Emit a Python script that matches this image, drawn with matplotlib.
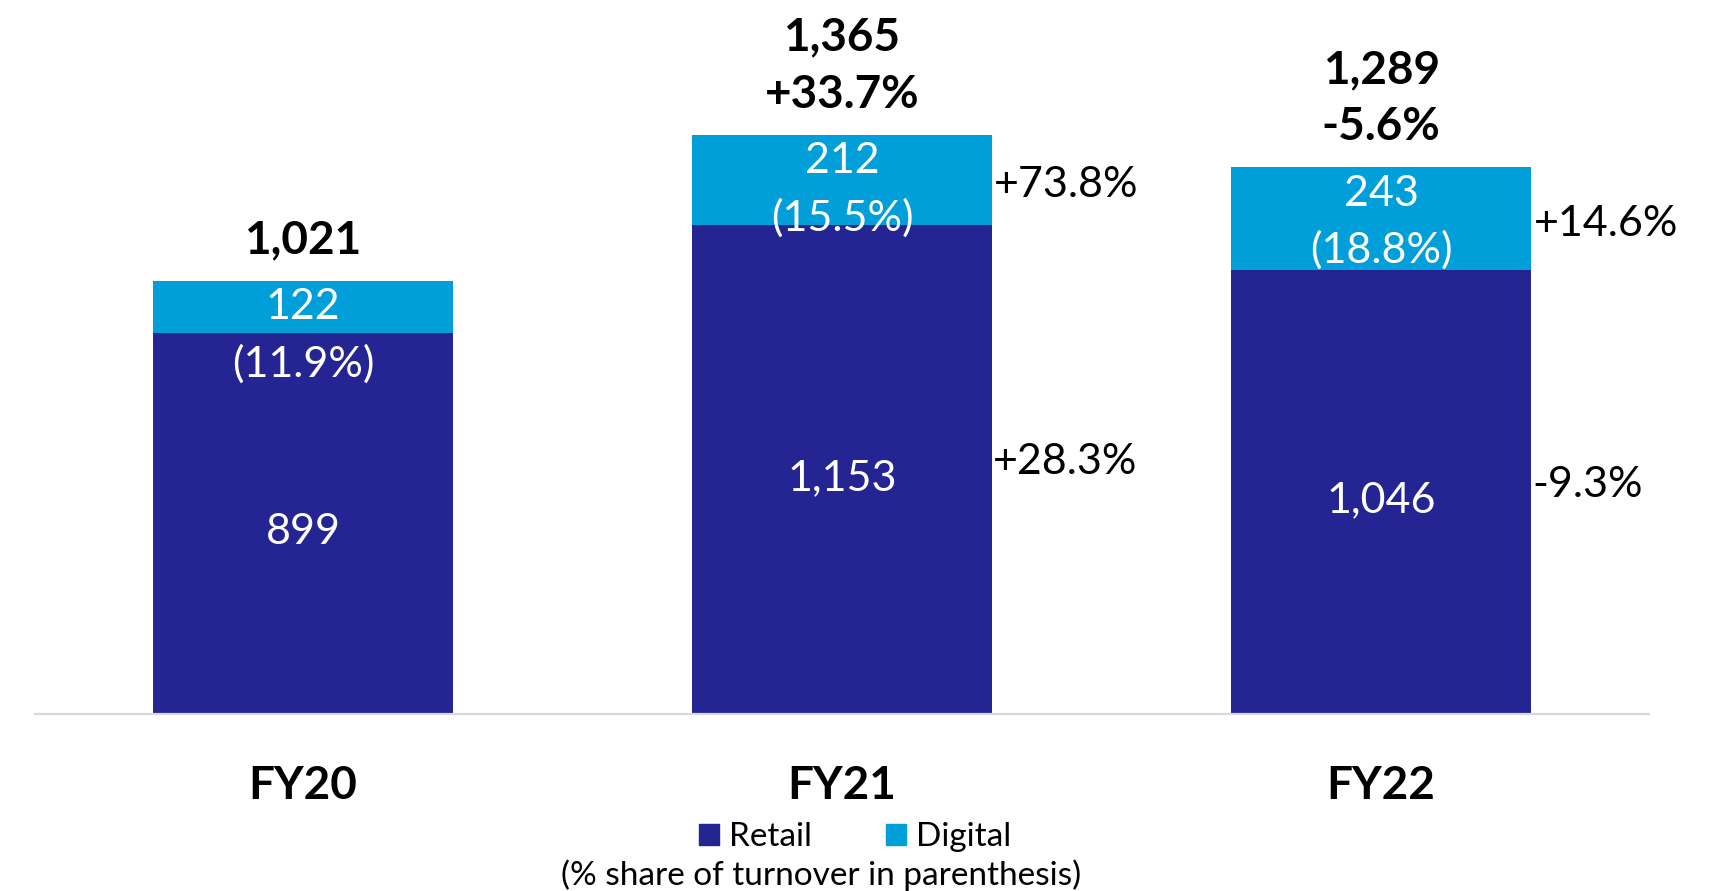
import matplotlib
matplotlib.use("Agg")
import matplotlib.pyplot as plt
from matplotlib.patches import Patch

categories = ["FY20", "FY21", "FY22"]
retail = [899, 1153, 1046]
digital = [122, 212, 243]
totals_lbl = ["1,021", "1,365", "1,289"]
total_growth = [None, "+33.7%", "-5.6%"]
retail_lbl = ["899", "1,153", "1,046"]
digital_lbl = ["122", "212", "243"]
digital_share = ["(11.9%)", "(15.5%)", "(18.8%)"]
retail_growth = [None, "+28.3%", "-9.3%"]
digital_growth = [None, "+73.8%", "+14.6%"]

RETAIL_C = "#242492"
DIGITAL_C = "#009FD9"
FONT = "Lato"

plt.rcParams['font.family'] = [FONT, 'DejaVu Sans']

fig = plt.figure(figsize=(17.1, 8.91), dpi=100)
ax = fig.add_axes([35/1710, (891-714)/891, 1614/1710, 714/891])
x = list(range(len(categories)))
w = 0.555
ax.bar(x, retail, width=w, color=RETAIL_C)
ax.bar(x, digital, width=w, bottom=retail, color=DIGITAL_C)
ax.set_xlim(-0.497, 2.497)
ax.set_ylim(0, 1683)
for s in ["top", "right", "left"]:
    ax.spines[s].set_visible(False)
ax.spines["bottom"].set_color("#D9D9D9")
ax.spines["bottom"].set_linewidth(1.6)
ax.set_yticks([])
ax.set_xticks(x)
ax.set_xticklabels(categories, fontsize=33, fontweight="bold")
ax.tick_params(axis="x", length=0, pad=37)

for i in x:
    r, d = retail[i], digital[i]
    top = r + d
    # retail label
    ax.annotate(retail_lbl[i], (i, r / 2), xytext=(0, -6), textcoords="offset points",
                ha="center", va="center", color="white", fontsize=31)
    # digital labels (top-anchored)
    ax.annotate(digital_lbl[i], (i, top), xytext=(0, -19), textcoords="offset points",
                ha="center", va="center", color="white", fontsize=31)
    ax.annotate(digital_share[i], (i, top), xytext=(0, -60), textcoords="offset points",
                ha="center", va="center", color="white", fontsize=31)
    # totals
    ax.annotate(total_growth[i] if total_growth[i] else totals_lbl[i], (i, top),
                xytext=(0, 29), textcoords="offset points",
                ha="center", va="center", fontsize=33, fontweight="bold")
    if total_growth[i]:
        ax.annotate(totals_lbl[i], (i, top), xytext=(0, 70), textcoords="offset points",
                    ha="center", va="center", fontsize=33, fontweight="bold")
    # growth labels on right
    if digital_growth[i]:
        ax.annotate(digital_growth[i], (i + w / 2, r + d / 2), xytext=(2, -4),
                    textcoords="offset points", ha="left", va="center", fontsize=31)
    if retail_growth[i]:
        ax.annotate(retail_growth[i], (i + w / 2, r / 2), xytext=(1, 5),
                    textcoords="offset points", ha="left", va="center", fontsize=31)

handles = [Patch(color=RETAIL_C, label="Retail"), Patch(color=DIGITAL_C, label="Digital")]
fig.legend(handles=handles, loc="center", bbox_to_anchor=(855/1710, 1 - 837/891),
           ncol=2, frameon=False, fontsize=24, handlelength=0.6, handleheight=0.6,
           handletextpad=0.3, columnspacing=2.2)
fig.text(821/1710, 1 - 875/891, "(% share of turnover in parenthesis)", ha="center",
         va="center", fontsize=24)

fig.savefig("out.png", dpi=100)
